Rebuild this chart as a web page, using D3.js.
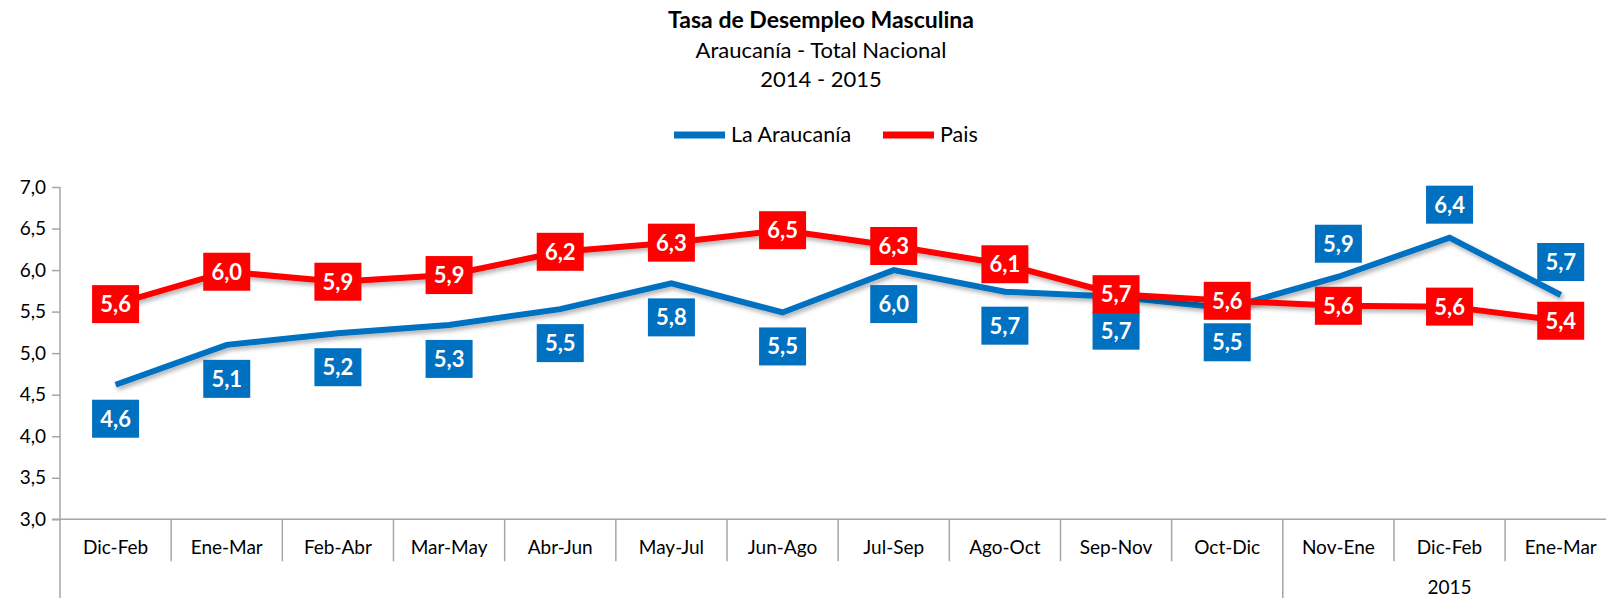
<!DOCTYPE html>
<html lang="es">
<head>
<meta charset="utf-8">
<title>Tasa de Desempleo Masculina</title>
<script src="https://cdn.jsdelivr.net/npm/d3@7"></script>
<style>
  html, body { margin: 0; padding: 0; background: #fff; }
  svg { display: block; font-family: Lato, "Open Sans", sans-serif; }
  .tick text { fill: #000; }
</style>
</head>
<body>
<div id="chart"></div>
<script>
  // data
  const categories = ["Dic-Feb", "Ene-Mar", "Feb-Abr", "Mar-May", "Abr-Jun", "May-Jul", "Jun-Ago",
                      "Jul-Sep", "Ago-Oct", "Sep-Nov", "Oct-Dic", "Nov-Ene", "Dic-Feb", "Ene-Mar"];
  const araucania = [4.62, 5.10, 5.24, 5.34, 5.53, 5.84, 5.49, 6.00, 5.74, 5.68, 5.54, 5.92, 6.39, 5.70];
  const pais      = [5.59, 5.98, 5.86, 5.94, 6.22, 6.33, 6.48, 6.29, 6.07, 5.71, 5.63, 5.57, 5.56, 5.39];
  // where the blue label sits: 1 = below the line, -1 = above
  const araucaniaLabelSide = [1, 1, 1, 1, 1, 1, 1, 1, 1, 1, 1, -1, -1, -1];
  const yTicks = [3.0, 3.5, 4.0, 4.5, 5.0, 5.5, 6.0, 6.5, 7.0];
  const groups = [{ label: "2015", from: 11, to: 13 }];
  const titleLines = ["Tasa de Desempleo Masculina", "Araucanía - Total Nacional", "2014 - 2015"];

  const width = 1606, height = 598;
  const blue = "#0070C0", red = "#FF0000", axisColor = "#A6A6A6";

  const locale = d3.formatLocale({ decimal: ",", thousands: ".", grouping: [3], currency: ["$", ""] });
  const fmt = locale.format(".1f");

  const svg = d3.select("#chart").append("svg")
    .attr("width", width)
    .attr("height", height);

  const defs = svg.append("defs");
  defs.append("filter")
      .attr("id", "shadow")
      .attr("x", "-5%").attr("y", "-20%").attr("width", "110%").attr("height", "140%")
    .append("feDropShadow")
      .attr("dx", 2).attr("dy", 3)
      .attr("stdDeviation", 2)
      .attr("flood-color", "#000")
      .attr("flood-opacity", 0.3);

  const x = d3.scaleBand().domain(d3.range(categories.length)).range([60, 1616.3]).padding(0);
  const y = d3.scaleLinear().domain([3, 7]).range([519.3, 187]);
  const cx = function(i) { return x(i) + x.bandwidth() / 2; };

  // titles
  svg.selectAll(".title")
    .data(titleLines)
    .enter()
    .append("text")
      .attr("x", 821)
      .attr("y", function(d, i) { return 28 + i * 29.5; })
      .attr("text-anchor", "middle")
      .style("font-size", function(d, i) { return i === 0 ? "23px" : "22px"; })
      .style("font-weight", function(d, i) { return i === 0 ? "bold" : "normal"; })
      .text(function(d) { return d; });

  // legend
  const legendItems = [{ name: "La Araucanía", color: blue, x: 674 }, { name: "Pais", color: red, x: 883 }];
  const legend = svg.append("g").attr("class", "legend");
  legend.selectAll("line")
    .data(legendItems)
    .enter()
    .append("line")
      .attr("x1", function(d) { return d.x; })
      .attr("x2", function(d) { return d.x + 51; })
      .attr("y1", 135).attr("y2", 135)
      .attr("stroke", function(d) { return d.color; })
      .attr("stroke-width", 7);
  legend.selectAll("text")
    .data(legendItems)
    .enter()
    .append("text")
      .attr("x", function(d) { return d.x + 57; })
      .attr("y", 142)
      .style("font-size", "21.5px")
      .text(function(d) { return d.name; });

  // y axis
  const yAxis = d3.axisLeft(y)
    .tickValues(yTicks)
    .tickSize(8)
    .tickPadding(6)
    .tickFormat(fmt);
  const yg = svg.append("g").attr("transform", "translate(60,0)").call(yAxis);
  yg.select(".domain").remove();
  yg.selectAll(".tick line").attr("stroke", axisColor).attr("stroke-width", 1.5);
  yg.selectAll(".tick text").style("font-size", "19px").style("font-family", "Lato, sans-serif");
  svg.append("line")
    .attr("x1", 60).attr("x2", 60)
    .attr("y1", y(7)).attr("y2", height)
    .attr("stroke", axisColor).attr("stroke-width", 1.5);

  // x axis
  svg.append("line")
    .attr("x1", 52).attr("x2", width)
    .attr("y1", y(3)).attr("y2", y(3))
    .attr("stroke", axisColor).attr("stroke-width", 1.5);

  svg.selectAll(".cat-sep")
    .data(d3.range(1, categories.length))
    .enter()
    .append("line")
      .attr("class", "cat-sep")
      .attr("x1", function(i) { return x(i); })
      .attr("x2", function(i) { return x(i); })
      .attr("y1", y(3))
      .attr("y2", function(i) { return groups.some(function(g) { return g.from === i; }) ? height : y(3) + 42; })
      .attr("stroke", axisColor).attr("stroke-width", 1.5);

  svg.selectAll(".cat-label")
    .data(categories)
    .enter()
    .append("text")
      .attr("class", "cat-label")
      .attr("x", function(d, i) { return cx(i); })
      .attr("y", 554)
      .attr("text-anchor", "middle")
      .style("font-size", "19px")
      .text(function(d) { return d; });

  svg.selectAll(".group-label")
    .data(groups)
    .enter()
    .append("text")
      .attr("class", "group-label")
      .attr("x", function(g) { return (x(g.from) + x(g.to) + x.bandwidth()) / 2; })
      .attr("y", 594)
      .attr("text-anchor", "middle")
      .style("font-size", "19px")
      .text(function(g) { return g.label; });

  // lines
  const line = d3.line()
    .x(function(d, i) { return cx(i); })
    .y(function(d) { return y(d); });

  const series = [
    { name: "La Araucanía", values: araucania, color: blue, offset: function(i) { return araucaniaLabelSide[i] > 0 ? 34 : -33; } },
    { name: "Pais", values: pais, color: red, offset: function() { return 0; } }
  ];

  svg.selectAll(".series-line")
    .data(series)
    .enter()
    .append("path")
      .attr("class", "series-line")
      .attr("d", function(s) { return line(s.values); })
      .attr("fill", "none")
      .attr("stroke", function(s) { return s.color; })
      .attr("stroke-width", 6)
      .attr("stroke-linejoin", "miter")
      .attr("filter", "url(#shadow)");

  // data labels
  const boxW = 47, boxH = 38;
  series.forEach(function(s) {
    const g = svg.append("g").attr("class", "labels");
    const lab = g.selectAll("g")
      .data(s.values)
      .enter()
      .append("g")
        .attr("transform", function(d, i) { return "translate(" + cx(i) + "," + (y(d) + s.offset(i)) + ")"; });
    lab.append("rect")
      .attr("x", -boxW / 2).attr("y", -boxH / 2)
      .attr("width", boxW).attr("height", boxH)
      .attr("fill", s.color);
    lab.append("text")
      .attr("text-anchor", "middle")
      .attr("dy", "0.36em")
      .attr("fill", "#fff")
      .style("font-size", "22px")
      .style("font-weight", "bold")
      .text(function(d) { return fmt(d); });
  });
</script>
</body>
</html>
